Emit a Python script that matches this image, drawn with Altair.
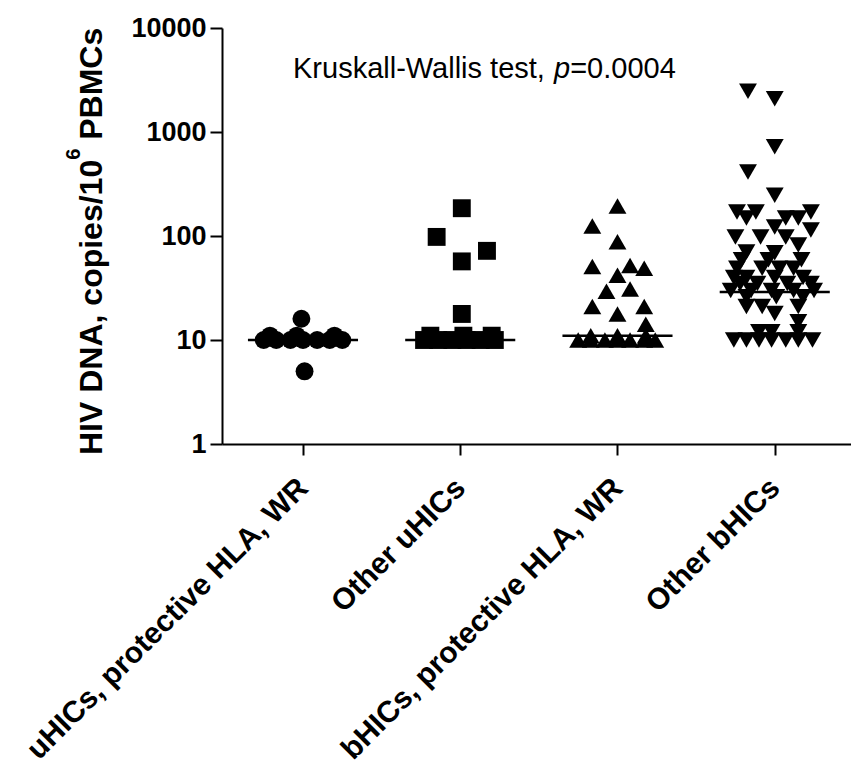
import json
import altair as alt
import pandas as pd

# ---- data ----
groups = ["uHICs, protective HLA, WR", "Other uHICs",
          "bHICs, protective HLA, WR", "Other bHICs"]
shapes = ["circle", "square", "triangle-up", "triangle-down"]

# HIV DNA values (copies/10^6 PBMCs) and horizontal scatter (fraction of group spacing)
g1_values = [10, 10, 10, 10, 10, 10, 10, 11, 11, 11, 16, 5]
g1_dx = [-0.25, -0.17, -0.08, 0.0, 0.09, 0.17, 0.25, -0.21, -0.04, 0.2, -0.01, 0.01]

g2_values = [10, 10, 10, 10, 10, 10, 11, 11, 11, 17.8, 57, 72, 98, 185]
g2_dx = [-0.23, -0.14, -0.05, 0.04, 0.13, 0.22, -0.19, 0.02, 0.2, 0.01, 0.01, 0.17, -0.15, 0.01]

g3_values = [10, 10, 10, 10, 10, 10, 10, 11, 11, 11, 14.2, 17.8, 21, 21, 29.5, 31,
             42, 49, 51, 52, 88, 125, 194]
g3_dx = [-0.25, -0.17, -0.08, 0.0, 0.08, 0.17, 0.24, -0.17, 0.0, 0.18, 0.18, 0.0,
         -0.16, 0.17, -0.07, 0.08, 0.0, 0.17, -0.16, 0.08, 0.0, -0.16, 0.0]

g4_values = [2470, 2090, 720, 413, 247,
             170, 170, 170, 149, 149, 149, 122, 114,
             98, 98, 98, 82, 70, 69,
             59, 59, 59, 49, 49, 49, 49,
             40, 40, 40, 40, 35, 35, 35, 35,
             30, 30, 30, 30, 30, 26, 26, 26,
             21, 21, 21, 18, 15,
             10, 10, 10, 10, 10, 10, 10, 12, 12, 12]
g4_dx = [-0.17, 0.0, 0.0, -0.17, 0.0,
         -0.24, -0.12, 0.23, -0.18, 0.07, 0.15, 0.0, 0.23,
         -0.25, -0.09, 0.07, 0.15, -0.18, 0.0,
         -0.21, -0.04, 0.17, -0.24, -0.08, 0.03, 0.12,
         -0.26, -0.18, 0.0, 0.18, -0.22, -0.11, 0.08, 0.23,
         -0.28, -0.15, -0.02, 0.12, 0.25, -0.18, 0.01, 0.18,
         -0.18, -0.08, 0.15, 0.0, 0.15,
         -0.26, -0.18, -0.1, -0.02, 0.07, 0.15, 0.24, -0.1, -0.02, 0.15]

medians = [10, 10, 11, 29]

y_ticks = [1, 10, 100, 1000, 10000]
annotation = ["Kruskall-Wallis test,", "p", "=0.0004"]
y_title = ["HIV DNA, copies/10", "6", "PBMCs"]

# ---- build tables ----
rows = []
for gi, (vals, dxs) in enumerate([(g1_values, g1_dx), (g2_values, g2_dx),
                                   (g3_values, g3_dx), (g4_values, g4_dx)]):
    for v, d in zip(vals, dxs):
        rows.append({"group": groups[gi], "pos": gi + d, "value": v})
df = pd.DataFrame(rows)

half = 0.35
med_df = pd.DataFrame({"group": groups,
                       "lo": [i - half for i in range(4)],
                       "hi": [i + half for i in range(4)],
                       "median": medians})

FONT = "Liberation Sans"
label_expr = json.dumps(groups) + "[datum.value]"

xscale = alt.Scale(domain=[-0.515, 3.485], nice=False, zero=False)
yscale = alt.Scale(type="log", domain=[1, 10000], nice=False)

xaxis = alt.Axis(values=[0, 1, 2, 3], labelExpr=label_expr, title=None,
                 labelAngle=315, labelAlign="right", labelBaseline="middle",
                 labelFontSize=30, labelFontWeight="bold", labelPadding=28,
                 labelLimit=1000, tickSize=11, labelOverlap=False,
                 labelBound=False, labelFlush=False)
yaxis = alt.Axis(values=y_ticks, format="d", title=None,
                 labelFontSize=27, labelFontWeight="bold", labelPadding=4,
                 tickSize=12, labelFlush=False, labelOverlap=False)

points = alt.Chart(df).mark_point(filled=True, opacity=1, size=320,
                                  color="black", strokeWidth=0).encode(
    x=alt.X("pos:Q", scale=xscale, axis=xaxis),
    y=alt.Y("value:Q", scale=yscale, axis=yaxis),
    shape=alt.Shape("group:N", scale=alt.Scale(domain=groups, range=shapes), legend=None),
)

med = alt.Chart(med_df).mark_rule(color="black", strokeWidth=2.5).encode(
    x=alt.X("lo:Q", scale=xscale),
    x2="hi:Q",
    y=alt.Y("median:Q", scale=yscale),
)


def text_layer(t, x, y, size, **kw):
    return alt.Chart(pd.DataFrame({"t": [t]})).mark_text(
        font=FONT, fontSize=size, color="black", align="left",
        baseline="alphabetic", **kw
    ).encode(x=alt.value(x), y=alt.value(y), text="t:N")


# annotation (italic p)
ax0 = 71
fs = 29
t1 = text_layer(annotation[0], ax0, 50, fs)
t2 = text_layer(annotation[1], ax0 + 9.001 * fs, 50, fs, fontStyle="italic")
t3 = text_layer(annotation[2], ax0 + 9.557 * fs, 50, fs)

# y-axis title with superscript, rotated
tfs = 32
ty0 = 427
tx = -120
sup = 20
y1 = text_layer(y_title[0], tx, ty0, tfs, fontWeight="bold", angle=270)
y2 = text_layer(y_title[1], tx - 22, ty0 - 9.225 * tfs, sup, fontWeight="bold", angle=270)
y3 = text_layer(y_title[2], tx, ty0 - 9.225 * tfs - 0.556 * sup - 0.278 * tfs, tfs,
                fontWeight="bold", angle=270)

chart = alt.layer(med, points, t1, t2, t3, y1, y2, y3).properties(
    width=629, height=416,
    autosize=alt.AutoSizeParams(type="none"),
    padding={"left": 214, "top": 20, "right": 0, "bottom": 325},
).configure_view(stroke=None).configure_axis(
    grid=False, domainColor="black", domainWidth=2, tickColor="black", tickWidth=2,
    labelColor="black", titleColor="black", labelFont=FONT, titleFont=FONT,
)

chart.save("out.html", embed_options={"renderer": "svg", "actions": False})
